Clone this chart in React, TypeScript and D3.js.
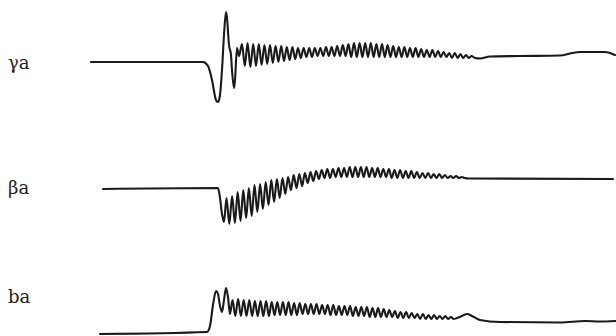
import React from "react";
import * as d3 from "d3";

// Trace labels
const labels = ["γa", "βa", "ba"];

// Time axis (arbitrary units) and amplitude values read from the record, [t, v]
const gammaTrace: [number, number][] = [
  [0, 0], [112, 0], [117, -4], [121, -18], [125, -38], [127, -40], [129, -33], [131, -8], [133, 27], [135, 50],
  [136, 44], [138, 17], [140, 7], [141, -8], [143, -26], [144, -18], [146, 14], [148, 6],
  [151.0, 18], [153.8, -4], [156.6, 19], [159.4, -5], [162.2, 18], [165.0, -4], [167.8, 18], [170.6, -3],
  [173.4, 17], [176.2, -2], [179.0, 17], [181.8, -1], [184.6, 16], [187.4, 0], [190.2, 16], [193.0, 1],
  [195.8, 15], [198.6, 2], [201.4, 15], [204.2, 3], [207.0, 14], [209.8, 4], [212.6, 14], [215.4, 5],
  [218.2, 14], [221.0, 5], [223.8, 14], [226.6, 6], [229.4, 14], [232.2, 6], [235.0, 15], [237.8, 6],
  [240.6, 15], [243.4, 6], [246.2, 16], [249.0, 6], [251.8, 17], [254.6, 6], [257.4, 18], [260.2, 5],
  [263.0, 19], [265.8, 5], [268.6, 19], [271.4, 5], [274.2, 19], [277.0, 5], [279.8, 19], [282.6, 5],
  [285.4, 18], [288.2, 5], [291.0, 18], [293.8, 5], [296.6, 17], [299.4, 5], [302.2, 16], [305.0, 5],
  [307.8, 15], [310.6, 5], [313.4, 15], [316.2, 5], [319.0, 14], [321.8, 5], [324.6, 14], [327.4, 5],
  [330.2, 13], [333.0, 5], [335.8, 12], [338.6, 5], [341.4, 12], [344.2, 5], [347.0, 11], [349.8, 5],
  [352.6, 10], [355.4, 5], [358.2, 9], [361.0, 4], [363.8, 9], [366.6, 4], [369.4, 8], [372.2, 4],
  [375.0, 7], [377.8, 4], [380.6, 6], [384, 4], [389, 3.5], [399, 5.5], [429, 6], [469, 6.5],
  [481, 9], [489, 10], [514, 10], [524, 7],
];

const betaTrace: [number, number][] = [
  [12, 0], [127, 1], [129, -9], [131, -25], [133, -33],
  [135.5, -9], [138.3, -35], [141.1, -7], [143.9, -34], [146.7, -3], [149.5, -32], [152.3, -1], [155.1, -29],
  [157.9, 1], [160.7, -27], [163.5, 4], [166.3, -23], [169.1, 5], [171.9, -20], [174.7, 7], [177.5, -16],
  [180.3, 9], [183.1, -13], [185.9, 10], [188.7, -9], [191.5, 11], [194.3, -5], [197.1, 12], [199.9, -1],
  [202.7, 14], [205.5, 1], [208.3, 15], [211.1, 3], [213.9, 16], [216.7, 6], [219.5, 17], [222.3, 8],
  [225.1, 18], [227.9, 10], [230.7, 19], [233.5, 11], [236.3, 20], [239.1, 11], [241.9, 20], [244.7, 12],
  [247.5, 21], [250.3, 12], [253.1, 21], [255.9, 12], [258.7, 22], [261.5, 12], [264.3, 22], [267.1, 12],
  [269.9, 22], [272.7, 12], [275.5, 22], [278.3, 12], [281.1, 21], [283.9, 12], [286.7, 21], [289.5, 12],
  [292.3, 20], [295.1, 12], [297.9, 20], [300.7, 11], [303.5, 19], [306.3, 11], [309.1, 19], [311.9, 11],
  [314.7, 18], [317.5, 11], [320.3, 18], [323.1, 11], [325.9, 17], [328.7, 11], [331.5, 16], [334.3, 11],
  [337.1, 16], [339.9, 11], [342.7, 15], [345.5, 11], [348.3, 15], [351.1, 11], [353.9, 14], [356.7, 11],
  [359.5, 13], [362.3, 11], [365.1, 13], [367.9, 11], [370.7, 12], [373.5, 11], [378, 10.5], [522, 10],
];

const bTrace: [number, number][] = [
  [9, -1], [116, 1], [119, 7], [122, 28], [125, 42], [127, 39], [129, 27], [131, 21], [133, 33], [135, 45],
  [137, 36], [139, 19],
  [141.5, 33], [144.3, 17], [147.1, 34], [149.9, 17], [152.7, 33], [155.5, 17], [158.3, 33], [161.1, 17],
  [163.9, 32], [166.7, 17], [169.5, 32], [172.3, 17], [175.1, 32], [177.9, 17], [180.7, 31], [183.5, 18],
  [186.3, 31], [189.1, 18], [191.9, 31], [194.7, 18], [197.5, 31], [200.3, 18], [203.1, 30], [205.9, 18],
  [208.7, 30], [211.5, 19], [214.3, 29], [217.1, 19], [219.9, 29], [222.7, 19], [225.5, 29], [228.3, 19],
  [231.1, 28], [233.9, 19], [236.7, 28], [239.5, 18], [242.3, 28], [245.1, 18], [247.9, 27], [250.7, 18],
  [253.5, 27], [256.3, 18], [259.1, 27], [261.9, 17], [264.7, 26], [267.5, 17], [270.3, 26], [273.1, 17],
  [275.9, 26], [278.7, 16], [281.5, 25], [284.3, 16], [287.1, 25], [289.9, 16], [292.7, 24], [295.5, 16],
  [298.3, 23], [301.1, 16], [303.9, 22], [306.7, 15], [309.5, 21], [312.3, 15], [315.1, 21], [317.9, 15],
  [320.7, 20], [323.5, 15], [326.3, 19], [329.1, 14], [331.9, 19], [334.7, 14], [337.5, 18], [340.3, 14],
  [343.1, 18], [345.9, 14], [348.7, 17], [351.5, 14], [354.3, 17], [357.1, 14], [359.9, 16], [362.7, 14],
  [366, 15], [371, 17], [376, 19], [381, 17], [389, 13], [409, 11], [469, 10.5], [494, 12], [509, 11.5], [525, 12],
];

const traces = [gammaTrace, betaTrace, bTrace];

const W = 616;
const H = 336;
const baselines = [62, 189, 333];
const labelY = [69, 194, 303];

export default function App() {
  const x = d3.scaleLinear().domain([0, 525]).range([91, 616]);
  return (
    <svg
      width={W}
      height={H}
      style={{ position: "fixed", left: 0, top: 0, background: "#fff" }}
    >
      {traces.map((data, i) => {
        const y = d3
          .scaleLinear()
          .domain([-50, 50])
          .range([baselines[i] + 50, baselines[i] - 50]);
        const line = d3
          .line<[number, number]>()
          .x((d) => x(d[0]))
          .y((d) => y(d[1]))
          .curve(d3.curveMonotoneX);
        return (
          <g key={i}>
            <path
              d={line(data) || ""}
              fill="none"
              stroke="#1a1a1a"
              strokeWidth={2.1}
              strokeLinejoin="round"
              strokeLinecap="round"
            />
            <text
              x={8}
              y={labelY[i]}
              fontFamily="DejaVu Serif, serif"
              fontSize={18}
              fill="#222"
            >
              {labels[i]}
            </text>
          </g>
        );
      })}
    </svg>
  );
}
